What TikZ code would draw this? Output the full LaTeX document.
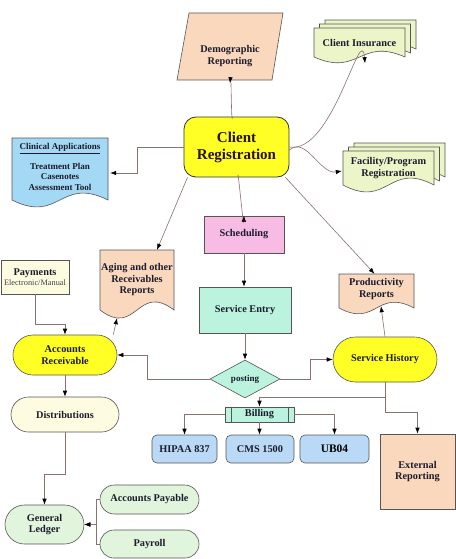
\documentclass[tikz,border=0pt]{standalone}
\usepackage{fontspec}
\setmainfont{Liberation Serif}
\usetikzlibrary{arrows.meta,shapes.geometric}
\definecolor{peach}{HTML}{F9D8BD}
\definecolor{yellowfill}{HTML}{FFFF26}
\definecolor{insgreen}{HTML}{EBF5C8}
\definecolor{clinblue}{HTML}{A3D9F5}
\definecolor{pinkfill}{HTML}{F8BBE3}
\definecolor{mint}{HTML}{BBF3DF}
\definecolor{cream}{HTML}{FEFCE0}
\definecolor{glgreen}{HTML}{E0F5DC}
\definecolor{billblue}{HTML}{B9D9F7}
\definecolor{linegray}{HTML}{555555}
\definecolor{conncol}{HTML}{8C7070}
\definecolor{txt}{HTML}{1C1C2C}
\definecolor{crtext}{HTML}{2A1010}
\newcommand{\docshape}[6]{%
  \filldraw[shapeline,fill=#6] (#1,#2) -- (#3,#2) -- (#3,#4)
    .. controls ({(#1+#3)/2},{#4-#5}) and ({(#1+#3)/2},{#4+#5}) .. (#1,#4) -- cycle;}
\begin{document}
\begin{tikzpicture}[x=1pt,y=-1pt,
  shapeline/.style={draw=linegray, line width=0.6pt},
  lbl/.style={font=\fontsize{10.3}{11.5}\selectfont\bfseries, text=txt, align=center, inner sep=0pt},
  box/.style={lbl, shapeline, rectangle},
  stadium/.style={box, rounded corners=#1},
  conn/.style={draw=conncol, line width=0.6pt, -{Latex[length=6pt,width=4.5pt,color=black]}},
  plainline/.style={draw=conncol, line width=0.6pt}]
\fill[white] (0,0) rectangle (455,559);
\useasboundingbox (0,0) rectangle (455,559);

% ---------- shapes drawn directly ----------
\filldraw[shapeline, fill=peach] (189,13) -- (283,13) -- (272,80) -- (177,80) -- cycle;
\docshape{325}{20}{416}{49}{20}{insgreen}
\docshape{319.5}{24}{410.5}{53}{20}{insgreen}
\docshape{314}{28}{405}{57}{20}{insgreen}
\docshape{354}{143}{445}{177}{24}{insgreen}
\docshape{348.5}{147}{439.5}{181}{24}{insgreen}
\docshape{343}{151}{434}{185}{24}{insgreen}
\docshape{12}{138}{108}{200}{24}{clinblue}
\docshape{100}{250}{174}{310}{28}{peach}
\docshape{339}{274}{414}{308}{20}{peach}

% ---------- nodes ----------
\node[lbl, minimum width=95pt, minimum height=48pt] (demo) at (230,56) {Demographic\\Reporting};
\node[lbl, minimum width=91pt, minimum height=29pt] (ins) at (359.5,42.5) {Client Insurance};
\node[lbl, minimum width=91pt, minimum height=34pt] (fac) at (388.5,168) {Facility/Program\\Registration};
\node[lbl, font=\fontsize{9}{10.5}\selectfont\bfseries, minimum width=96pt, minimum height=62pt] (clin) at (60,167)
  {\underline{Clinical Applications}\\[9pt]Treatment Plan\\Casenotes\\Assessment Tool};
\node[lbl, minimum width=74pt, minimum height=60pt] (aging) at (137,280) {Aging and other\\Receivables\\Reports};
\node[lbl, minimum width=75pt, minimum height=30pt] (prod) at (376.5,289) {Productivity\\Reports};

\node[box, rounded corners=12pt, fill=yellowfill, draw=black!80, line width=0.8pt,
  minimum width=105pt, minimum height=60pt, font=\fontsize{15}{17}\selectfont\bfseries, text=crtext]
  (cr) at (236.5,147) {Client\\Registration};

\node[box, fill=pinkfill, minimum width=80pt, minimum height=37pt] (sched) at (244,234.5) {Scheduling};
\node[box, fill=mint, minimum width=92pt, minimum height=46pt] (se) at (245,310) {Service Entry};
\node[lbl, shapeline, diamond, fill=mint, font=\fontsize{9}{10}\selectfont\bfseries,
  minimum width=70pt, minimum height=38pt] (post) at (245,379) {posting};

\node[box, fill=cream, minimum width=68pt, minimum height=34pt] (pay) at (35,277)
  {Payments\\[-1pt]{\fontsize{8.3}{9}\selectfont\mdseries\color{black!75}Electronic/Manual}};
\node[stadium=20pt, fill=yellowfill, minimum width=104pt, minimum height=40pt] (ar) at (65,355) {Accounts\\Receivable};
\node[stadium=22.5pt, fill=yellowfill, minimum width=104pt, minimum height=45pt] (sh) at (385,359.5) {Service History};
\node[stadium=17.5pt, fill=cream, minimum width=108pt, minimum height=35pt] (dist) at (65,414.5) {Distributions};
\node[stadium=19.5pt, fill=glgreen, minimum width=79pt, minimum height=39pt] (gl) at (44.5,524.5) {General\\Ledger};
\node[stadium=14.5pt, fill=glgreen, minimum width=99pt, minimum height=29pt] (ap) at (149.5,499.5) {Accounts Payable};
\node[stadium=14pt, fill=glgreen, minimum width=99pt, minimum height=28pt] (pr) at (149.5,544) {Payroll};

\node[box, fill=mint, minimum width=69pt, minimum height=15pt] (bill) at (259.5,414.5) {Billing};
\draw[shapeline] ([xshift=7pt]bill.north west) -- ([xshift=7pt]bill.south west);
\draw[shapeline] ([xshift=-6pt]bill.north east) -- ([xshift=-6pt]bill.south east);

\node[box, rounded corners=5pt, fill=billblue, minimum width=65pt, minimum height=28pt] (hip) at (184.5,449) {HIPAA 837};
\node[box, rounded corners=5pt, fill=billblue, minimum width=68pt, minimum height=28pt] (cms) at (260,449) {CMS 1500};
\node[box, rounded corners=5pt, fill=billblue, minimum width=69pt, minimum height=28pt,
  font=\fontsize{11.5}{12}\selectfont\bfseries, text=black] (ub) at (334.5,449) {UB04};
\node[box, fill=peach, minimum width=75pt, minimum height=75pt] (ext) at (417.5,471.5) {External\\Reporting};

% ---------- connectors ----------
\draw[conn] ([xshift=-4pt]cr.north) to[out=-95,in=85] ([yshift=-3pt]demo.south);
\draw[conn] (cr.east) to[out=-10,in=95] ([xshift=5.5pt,yshift=-6pt]ins.south);
\draw[conn] ([yshift=-3pt]cr.east) to[out=40,in=190] ([xshift=-1pt,yshift=-3pt]fac.west);
\draw[conn] (cr.west) -- ++(-46,0) |- ([xshift=2pt,yshift=-6pt]clin.east);
\draw[conn] ([xshift=1.5pt]cr.south) to[out=92,in=-92] (sched.north);
\draw[conn] ([xshift=-49pt]cr.south) -- ([xshift=20pt]aging.north);
\draw[conn] ([xshift=-4pt]cr.south east) -- ([xshift=-2pt]prod.north);

\draw[conn] (sched.south) -- (sched.south |- se.north);
\draw[conn] (se.south) -- (post.north);
\draw[conn] (post.west) -- ++(-62,0) |- (ar.east);
\draw[conn] (post.east) -- ++(30,0) |- (sh.west);
\draw[conn] (sh.north) -- ([xshift=4.5pt,yshift=-2pt]prod.south);
\draw[conn] ([xshift=-4pt]ar.north east) -- ([xshift=-20pt,yshift=-8pt]aging.south);

\draw[conn] (pay.south) -- ++(0,30) -| (ar.north);
\draw[conn] (ar.south) -- (dist.north);
\draw[conn] (dist.south) -- ++(0,42) -| (gl.north);
\draw[conn] (ap.west) -- ++(-3,0) |- (gl.east);
\draw[conn] (pr.west) -- ++(-3,0) |- (gl.east);

\draw[conn] (sh.south) -- ++(0,15) -| (bill.north);
\draw[conn] (sh.south) -- ++(0,30) -| (ext.north);
\draw[conn] (bill.west) -| (hip.north);
\draw[conn] (bill.south) -- (bill.south |- cms.north);
\draw[conn] (bill.east) -| (ub.north);
\end{tikzpicture}
\end{document}
